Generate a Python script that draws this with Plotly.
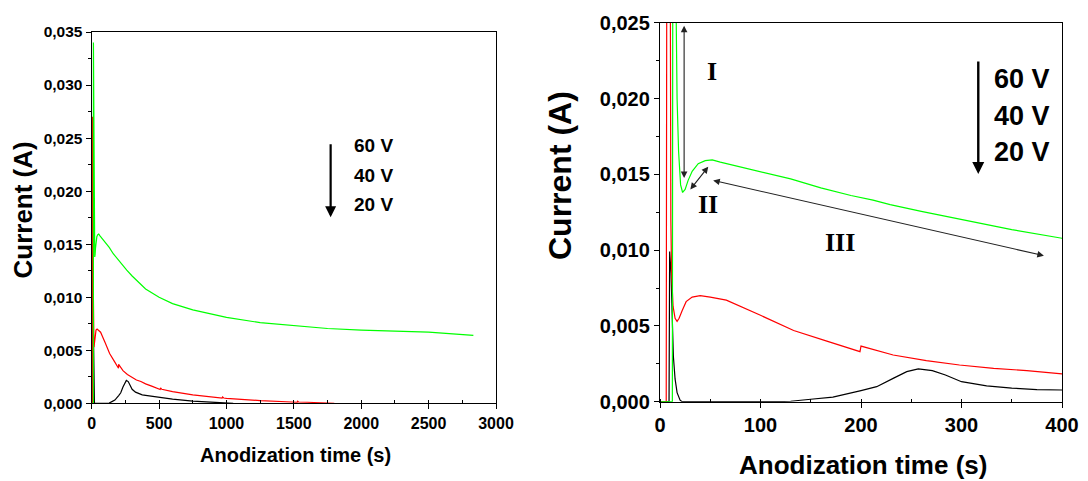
import plotly.graph_objects as go

# ---------------- data ----------------
time_20V = [0, 9, 9.6, 11, 12, 13.3, 15, 17, 20, 22, 110, 130, 150, 172, 200, 215.6, 232, 245.5, 257,
            271, 284, 300, 325, 350, 375, 400, 500, 600, 750, 900, 1000, 1050]
current_20V = [0, 0, 0.0099, 0.0085, 0.006, 0.003, 0.0015, 0.0006, 0.0001, 0, 0, 0.00003, 0.00016, 0.0003,
               0.00073, 0.00099, 0.00154, 0.00198, 0.00216, 0.00205, 0.00176, 0.00132, 0.00105, 0.0009,
               0.0008, 0.00075, 0.00055, 0.0004, 0.0002, 0.0001, 0.00005, 0]

time_40V = [0, 6.2, 6.7, 10.3, 10.8, 11.5, 13, 15, 17, 19, 22, 26, 32, 40, 50, 66, 100, 133, 166, 199, 200,
            232, 265, 298, 332, 365, 400, 450, 508, 511, 520, 600, 750, 968, 971, 980, 1000, 1250, 1500,
            1525, 1528, 1535, 1600, 1750, 1800]
current_40V = [0, 0, 0.027, 0.026, 0.012, 0.0085, 0.0063, 0.0055, 0.0053, 0.0055, 0.006, 0.0066, 0.0069,
               0.0070, 0.0069, 0.0067, 0.0057, 0.0047, 0.0040, 0.0033, 0.00367, 0.00308, 0.00271, 0.00242,
               0.0022, 0.00205, 0.00183, 0.0016, 0.0013, 0.00145, 0.00132, 0.0011, 0.00079, 0.0005, 0.0006,
               0.0005, 0.00047, 0.00025, 0.00013, 0.0001, 0.0002, 0.00012, 0.0001, 0.00003, 0]

time_60V = [0, 12.3, 12.8, 14.5, 16, 17, 18.5, 20.5, 22.5, 25, 28, 32, 38, 45, 52, 60, 80, 100, 130, 160, 190,
            212, 229, 260, 300, 350, 400, 500, 600, 750, 1000, 1250, 1500, 1750, 2000, 2250, 2500, 2832]
current_60V = [0, 0, 0.034, 0.030, 0.026, 0.020, 0.0165, 0.0143, 0.0138, 0.0140, 0.0146, 0.0152, 0.0157,
               0.0159, 0.01595, 0.0158, 0.0155, 0.0152, 0.0147, 0.0141, 0.0136, 0.0133, 0.0130, 0.01255,
               0.0120, 0.01135, 0.01078, 0.0100, 0.0094, 0.0088, 0.0081, 0.0076, 0.0073, 0.00705, 0.0069,
               0.0068, 0.0067, 0.0064]

series_names = ["20 V", "40 V", "60 V"]
series_colors = ["#000000", "#ff0000", "#00ff00"]
voltage_labels = ["60 V", "40 V", "20 V"]
stage_labels = ["I", "II", "III"]

W, H = 1088, 481


def px(x):
    return x / W


def py(y):
    return 1 - y / H


FONT = "Liberation Sans, Arial, sans-serif"
SERIF = "Liberation Serif, Times New Roman, serif"

fig = go.Figure()
data = [(time_20V, current_20V), (time_40V, current_40V), (time_60V, current_60V)]
for (t, c), name, col in zip(data, series_names, series_colors):
    for xa, ya in (("x", "y"), ("x2", "y2")):
        fig.add_trace(go.Scatter(x=t, y=c, mode="lines", name=name, xaxis=xa, yaxis=ya,
                                 line=dict(color=col, width=1.2), showlegend=False,
                                 hoverinfo="skip"))


def axis_common(size):
    return dict(showline=True, mirror=True, linecolor="black", linewidth=1.3, automargin=False,
                showgrid=False, zeroline=False, ticks="outside", ticklen=5, tickwidth=1.2,
                tickcolor="black", tickfont=dict(family=FONT, size=size, color="black", weight="bold"))


fig.update_layout(
    width=W, height=H, autosize=False, margin=dict(l=0, r=0, t=0, b=0),
    paper_bgcolor="white", plot_bgcolor="white", separators=",.",
    xaxis=dict(domain=[px(91.7), px(496)], range=[0, 3000], dtick=500, tickformat="d", anchor="y",
               minor=dict(dtick=250, ticks="inside", ticklen=3, tickcolor="black"), **axis_common(16)),
    yaxis=dict(domain=[py(403.3), py(32)], range=[0, 0.035], dtick=0.005, tickformat=".3f", anchor="x",
               minor=dict(dtick=0.0025, ticks="outside", ticklen=3, tickcolor="black"), **axis_common(15.5)),
    xaxis2=dict(domain=[px(660), px(1062)], range=[0, 400], dtick=100, tickformat="d", anchor="y2",
                minor=dict(dtick=50, ticks="inside", ticklen=3, tickcolor="black"), **axis_common(20)),
    yaxis2=dict(domain=[py(401.7), py(22.7)], range=[0, 0.025], dtick=0.005, tickformat=".3f", anchor="x2",
                minor=dict(dtick=0.0025, ticks="outside", ticklen=3, tickcolor="black"), **axis_common(20)),
)

ann = []
# axis titles
ann.append(dict(text="Current (A)", x=px(22.5), y=py(210), textangle=-90, font=dict(size=26)))
ann.append(dict(text="Anodization time (s)", x=px(295), y=py(455), font=dict(size=20)))
ann.append(dict(text="Current (A)", x=px(560), y=py(176), textangle=-90, font=dict(size=32)))
ann.append(dict(text="Anodization time (s)", x=px(862.5), y=py(465), font=dict(size=26)))
for a in ann:
    a.update(xref="paper", yref="paper", showarrow=False, xanchor="center", yanchor="middle")
    a["font"].update(family=FONT, color="black", weight="bold")

# voltage labels
for lab, yl, yr in zip(voltage_labels, [145.7, 175, 205], [79, 115.7, 152.3]):
    ann.append(dict(text=lab, x=px(352), y=py(yl), xref="paper", yref="paper", showarrow=False,
                    xanchor="left", yanchor="middle",
                    font=dict(family=FONT, size=19, color="black", weight="bold")))
    ann.append(dict(text=lab, x=px(992), y=py(yr), xref="paper", yref="paper", showarrow=False,
                    xanchor="left", yanchor="middle",
                    font=dict(family=FONT, size=27, color="black", weight="bold")))

# voltage arrows (data coords)
ann.append(dict(x=1773, y=0.01753, ax=1773, ay=0.02456, xref="x", yref="y", axref="x", ayref="y",
                text="", showarrow=True, arrowhead=2, arrowsize=1, arrowwidth=2.2, arrowcolor="black"))
ann.append(dict(x=316.7, y=0.01502, ax=316.7, ay=0.02254, xref="x2", yref="y2", axref="x2", ayref="y2",
                text="", showarrow=True, arrowhead=2, arrowsize=1, arrowwidth=2.4, arrowcolor="black"))

# stage arrows (double headed)
stage_arrows = [((24, 0.0249), (24, 0.01475)), ((29, 0.0139), (48, 0.0155)), ((51.4, 0.01462), (382, 0.00963))]
for (x0, y0), (x1, y1) in stage_arrows:
    ann.append(dict(x=x1, y=y1, ax=x0, ay=y0, xref="x2", yref="y2", axref="x2", ayref="y2", text="",
                    showarrow=True, arrowhead=2, arrowside="end+start", arrowsize=1.2, arrowwidth=1.1,
                    arrowcolor="#222222"))

# stage labels
for lab, (xx, yy) in zip(stage_labels, [(711.7, 71.7), (708.3, 205), (840, 242.7)]):
    ann.append(dict(text=lab, x=px(xx), y=py(yy), xref="paper", yref="paper", showarrow=False,
                    xanchor="center", yanchor="middle",
                    font=dict(family=SERIF, size=26, color="black", weight="bold")))

fig.update_layout(annotations=ann)
fig.write_html("out.html", config={"displayModeBar": False},
               post_script="document.body.style.margin='0';document.body.style.overflow='hidden';")
